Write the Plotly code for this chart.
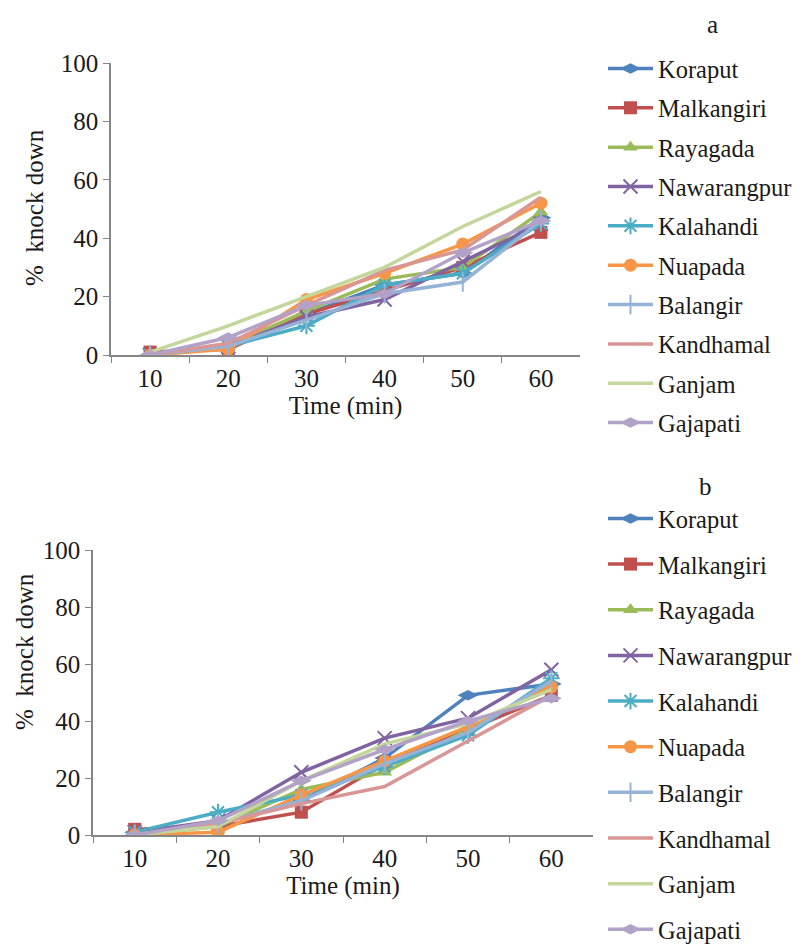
import plotly.graph_objects as go

times = ["10", "20", "30", "40", "50", "60"]
districts = ["Koraput", "Malkangiri", "Rayagada", "Nawarangpur", "Kalahandi",
             "Nuapada", "Balangir", "Kandhamal", "Ganjam", "Gajapati"]

# Panel a
a_koraput = [0, 3, 14, 24, 28, 47]
a_malkangiri = [1, 2, 14, 22, 30, 42]
a_rayagada = [0, 3, 15, 26, 30, 49]
a_nawarangpur = [0, 3, 13, 19, 32, 45]
a_kalahandi = [0, 3, 10, 24, 28, 45]
a_nuapada = [0, 2, 19, 28, 38, 52]
a_balangir = [0, 3, 12, 21, 25, 46]
a_kandhamal = [0, 4, 17, 29, 36, 54]
a_ganjam = [1, 10, 20, 30, 44, 56]
a_gajapati = [0, 6, 17, 21, 35, 46]

# Panel b
b_koraput = [1, 4, 12, 27, 49, 53]
b_malkangiri = [2, 3, 8, 25, 37, 49]
b_rayagada = [0, 3, 16, 22, 37, 53]
b_nawarangpur = [1, 5, 22, 34, 41, 58]
b_kalahandi = [1, 8, 14, 24, 35, 55]
b_nuapada = [0, 1, 14, 26, 38, 52]
b_balangir = [0, 4, 12, 25, 36, 54]
b_kandhamal = [0, 4, 11, 17, 33, 49]
b_ganjam = [0, 3, 19, 32, 39, 51]
b_gajapati = [0, 5, 19, 30, 40, 48]

colors = ["#4F81BD", "#C0504D", "#9BBB59", "#8064A2", "#4BACC6",
          "#F79646", "#95B3D7", "#D99694", "#C3D69B", "#B3A2C7"]
symbols = ["diamond-wide", "square", "triangle-up", "x-thin-open", "asterisk-open",
           "circle", "line-ns-open", None, None, "diamond-wide"]

panel_a = [a_koraput, a_malkangiri, a_rayagada, a_nawarangpur, a_kalahandi,
           a_nuapada, a_balangir, a_kandhamal, a_ganjam, a_gajapati]
panel_b = [b_koraput, b_malkangiri, b_rayagada, b_nawarangpur, b_kalahandi,
           b_nuapada, b_balangir, b_kandhamal, b_ganjam, b_gajapati]

FONT = "Liberation Serif"
TXT = "#1a1a1a"
FS = 25
LFS = 24.5
fig = go.Figure()


def add_panel(data, xa, ya, legend, tag):
    for i, name in enumerate(districts):
        sym = symbols[i]
        if sym is None:
            mode = "lines"
            marker = None
        else:
            mode = "lines+markers"
            if sym.endswith("-open"):
                marker = dict(symbol=sym, size=14, color=colors[i],
                              line=dict(color=colors[i], width=2))
            elif sym.startswith("diamond"):
                marker = dict(symbol=sym, size=15, color=colors[i],
                              line=dict(width=0))
            else:
                marker = dict(symbol=sym, size=13, color=colors[i],
                              line=dict(width=0))
        fig.add_trace(go.Scatter(
            x=times, y=data[i], name=name, mode=mode,
            line=dict(color=colors[i], width=3.5),
            marker=marker, xaxis=xa, yaxis=ya, legend=legend,
            legendgroup=tag + name,
        ))


add_panel(panel_a, "x", "y", "legend", "a_")
add_panel(panel_b, "x2", "y2", "legend2", "b_")

# page body has an 8px margin; figure sized to the visible area
OFF = 8
W, H = 800 - OFF, 949 - OFF
axis_col = "#868686"


def px(x):
    return (x - OFF) / W


def py(y):
    return 1 - (y - OFF) / H


def xax(x0, x1):
    return dict(domain=[px(x0), px(x1)], type="category", range=[-0.5, 5.5],
                showline=True, linecolor=axis_col, linewidth=1.5,
                ticks="outside", tickson="boundaries", ticklen=6,
                tickcolor=axis_col, showgrid=False, zeroline=False,
                tickfont=dict(family=FONT, size=FS, color=TXT),
                title=dict(text="Time (min)", standoff=2,
                           font=dict(family=FONT, size=FS, color=TXT)))


def yax(ytop, ybot, anchor):
    return dict(domain=[py(ybot), py(ytop)], range=[0, 100],
                tickvals=[0, 20, 40, 60, 80, 100],
                showline=True, linecolor=axis_col, linewidth=1.5,
                ticks="outside", ticklen=6, tickcolor=axis_col,
                showgrid=False, zeroline=False, anchor=anchor,
                tickfont=dict(family=FONT, size=FS, color=TXT))


legend_common = dict(font=dict(family=FONT, size=LFS, color=TXT),
                     bgcolor="rgba(0,0,0,0)", borderwidth=0,
                     traceorder="grouped", itemwidth=45,
                     xanchor="left", yanchor="top")


def ann(text, x, y, angle=0):
    return dict(text=text, x=px(x), y=py(y), xref="paper", yref="paper",
                showarrow=False, textangle=angle, xanchor="center", yanchor="middle",
                font=dict(family=FONT, size=FS, color=TXT))


fig.update_layout(
    width=W, height=H, plot_bgcolor="white", paper_bgcolor="white",
    margin=dict(l=0, r=0, t=0, b=0, autoexpand=False),
    xaxis=dict(xax(111, 580), anchor="y"),
    yaxis=yax(63, 355, "x"),
    xaxis2=dict(xax(93, 593), anchor="y2"),
    yaxis2=yax(550, 835, "x2"),
    legend=dict(legend_common, x=px(603), y=py(46), tracegroupgap=4.5),
    legend2=dict(legend_common, x=px(603), y=py(496), tracegroupgap=10.8),
    showlegend=True,
    annotations=[
        ann("a", 712, 25),
        ann("b", 705, 486),
        ann("%  knock down", 34, 208, -90),
        ann("%  knock down", 24, 652, -90),
    ],
)

fig.write_html("out.html")
